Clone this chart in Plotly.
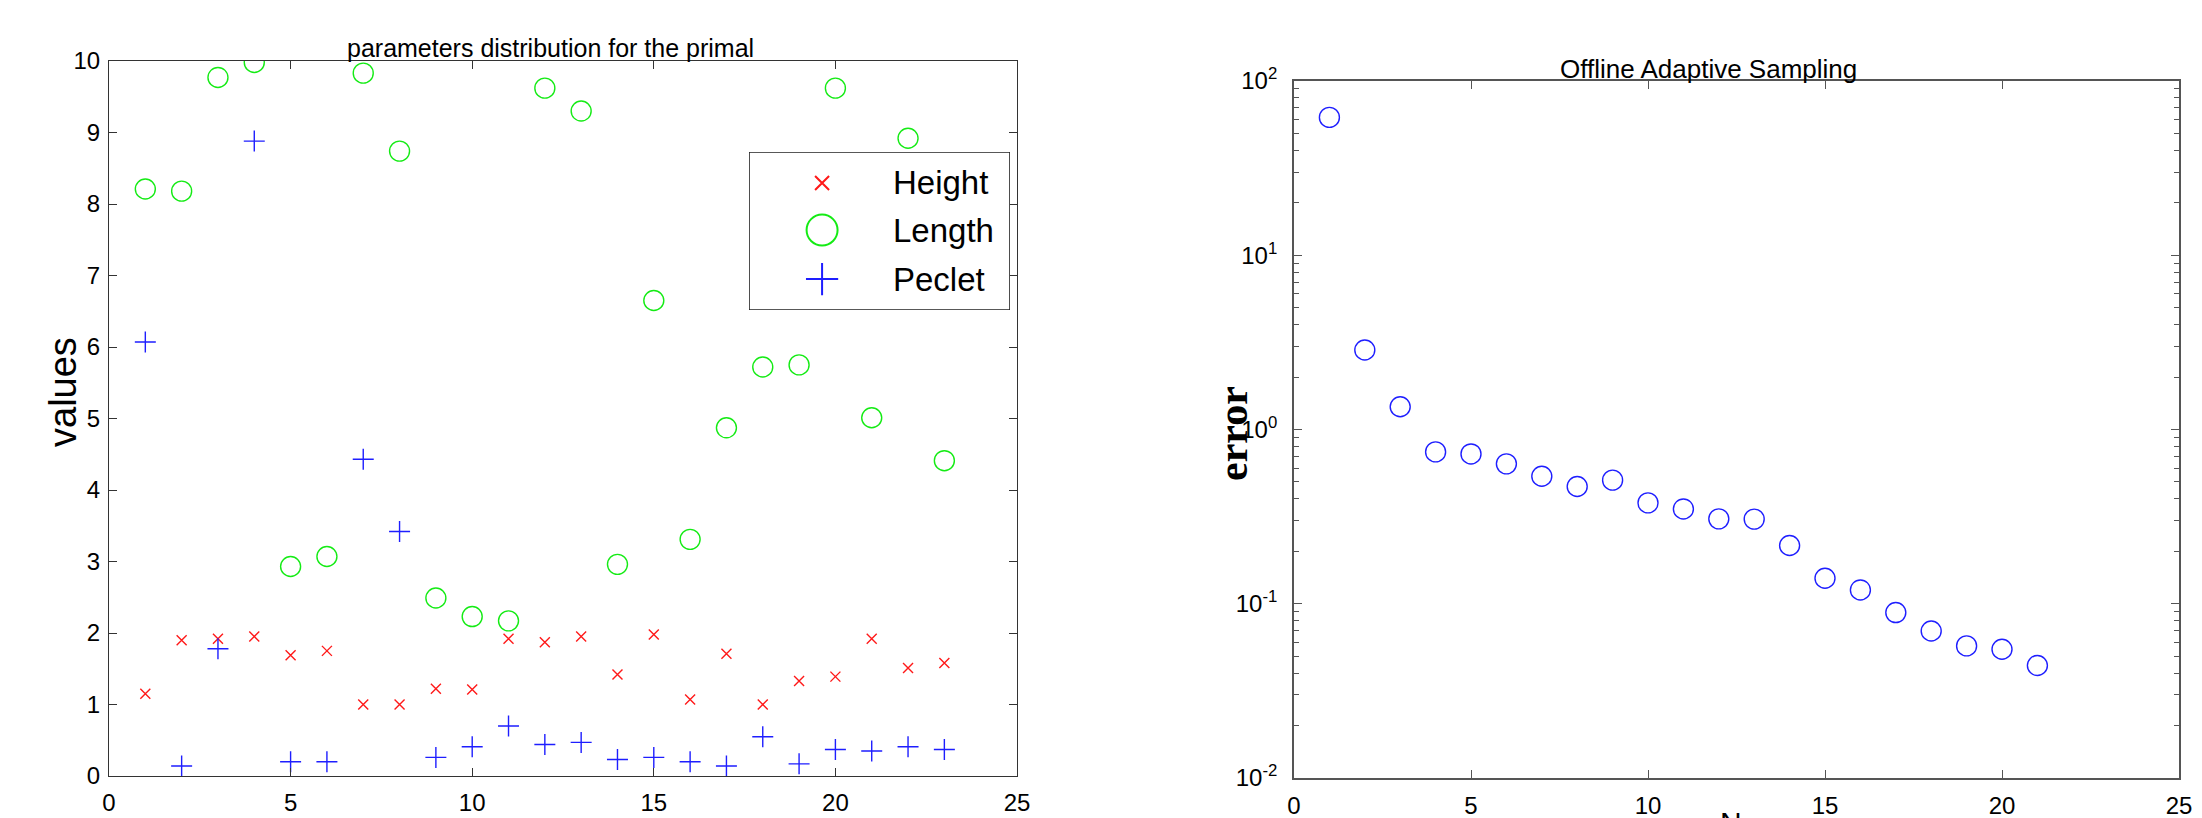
import plotly.graph_objects as go

# ---------------- data ----------------
run_index = list(range(1, 24))
height = [1.15, 1.90, 1.92, 1.95, 1.69, 1.75, 1.00, 1.00, 1.22, 1.21, 1.92, 1.87,
          1.95, 1.42, 1.98, 1.07, 1.71, 1.00, 1.33, 1.39, 1.92, 1.51, 1.58]
length = [8.21, 8.18, 9.77, 9.98, 2.93, 3.07, 9.83, 8.74, 2.49, 2.23, 2.17, 9.62,
          9.30, 2.96, 6.65, 3.31, 4.87, 5.72, 5.75, 9.62, 5.01, 8.92, 4.41]
peclet = [6.07, 0.14, 1.78, 8.88, 0.20, 0.20, 4.43, 3.42, 0.26, 0.41, 0.70, 0.44,
          0.47, 0.23, 0.26, 0.20, 0.14, 0.55, 0.17, 0.37, 0.35, 0.41, 0.37]
series_names = ["Height", "Length", "Peclet"]

n_basis = list(range(1, 22))
error = [61.8, 2.86, 1.35, 0.744, 0.724, 0.635, 0.539, 0.471, 0.512, 0.379, 0.350,
         0.307, 0.306, 0.216, 0.140, 0.120, 0.089, 0.0698, 0.0573, 0.0548, 0.0442]

x_ticks = [0, 5, 10, 15, 20, 25]
log_tick_vals = [0.01, 0.1, 1, 10, 100]
log_tick_text = ["10<sup>-2</sup>", "10<sup>-1</sup>", "10<sup>0</sup>", "10<sup>1</sup>", "10<sup>2</sup>"]

# ---------------- styling ----------------
W, H = 2202, 818
RED = "rgb(255,25,25)"
GREEN = "rgb(20,235,20)"
BLUE = "rgb(30,30,255)"
SANS = "Liberation Sans, Arial, Helvetica, sans-serif"
SERIF = "Liberation Serif, Times New Roman, serif"


def fx(p):
    return p / W


def fy(p):
    return 1 - p / H


fig = go.Figure()

# left panel
fig.add_trace(go.Scatter(x=run_index, y=height, mode="markers", name=series_names[0],
                         marker=dict(symbol="x-thin", size=10, color=RED, line=dict(width=1.4, color=RED)),
                         xaxis="x", yaxis="y", showlegend=False))
fig.add_trace(go.Scatter(x=run_index, y=length, mode="markers", name=series_names[1],
                         marker=dict(symbol="circle-open", size=20, color=GREEN, line=dict(width=1.4, color=GREEN)),
                         xaxis="x", yaxis="y", showlegend=False))
fig.add_trace(go.Scatter(x=run_index, y=peclet, mode="markers", name=series_names[2],
                         marker=dict(symbol="cross-thin", size=15, color=BLUE, line=dict(width=1.4, color=BLUE)),
                         xaxis="x", yaxis="y", showlegend=False))

# right panel
fig.add_trace(go.Scatter(x=n_basis, y=error, mode="markers", name="error",
                         marker=dict(symbol="circle-open", size=20, color=BLUE, line=dict(width=1.4, color=BLUE)),
                         xaxis="x2", yaxis="y2", showlegend=False))

# custom MATLAB-style legend (box + large markers) on a hidden overlay subplot
fig.add_trace(go.Scatter(x=[0, 1, 1, 0, 0], y=[0, 0, 1, 1, 0], mode="lines", fill="toself",
                         fillcolor="white", line=dict(color="#222", width=1.6),
                         xaxis="x3", yaxis="y3", showlegend=False, hoverinfo="skip"))
legend_rows = [0.804, 0.506, 0.196]
legend_symbols = [("x-thin", 14, RED), ("circle-open", 31, GREEN), ("cross-thin", 23, BLUE)]
for (sym, sz, col), ry in zip(legend_symbols, legend_rows):
    fig.add_trace(go.Scatter(x=[0.28], y=[ry], mode="markers",
                             marker=dict(symbol=sym, size=sz, color=col, line=dict(width=2, color=col)),
                             xaxis="x3", yaxis="y3", showlegend=False, hoverinfo="skip"))

axis_common = dict(showgrid=False, zeroline=False, showline=True, ticks="inside",
                   mirror="ticks", ticklen=8, automargin=False)

fig.update_layout(
    width=W, height=H, autosize=False, margin=dict(l=0, r=0, t=0, b=0, pad=0, autoexpand=False),
    paper_bgcolor="white", plot_bgcolor="white",
    xaxis=dict(domain=[fx(109), fx(1017)], range=[0, 25], tickvals=x_ticks,
               linecolor="#333", linewidth=1.2, tickcolor="#333", anchor="y",
               tickfont=dict(family=SANS, size=24, color="black"), ticklabelstandoff=5,
               **axis_common),
    yaxis=dict(domain=[fy(776), fy(61)], range=[0, 10], dtick=1, tick0=0,
               linecolor="#333", linewidth=1.2, tickcolor="#333", anchor="x",
               tickfont=dict(family=SANS, size=24, color="black"), ticklabelstandoff=3,
               **axis_common),
    xaxis2=dict(domain=[fx(1294), fx(2179)], range=[0, 25], tickvals=x_ticks,
                linecolor="#555", linewidth=1.8, tickcolor="#555", anchor="y2",
                tickfont=dict(family=SANS, size=24, color="black"), ticklabelstandoff=5,
                **axis_common),
    yaxis2=dict(domain=[fy(778), fy(81)], type="log", range=[-2, 2],
                tickvals=log_tick_vals, ticktext=log_tick_text,
                linecolor="#555", linewidth=1.8, tickcolor="#555", anchor="x2",
                tickfont=dict(family=SANS, size=24, color="black"), ticklabelstandoff=10,
                minor=dict(ticks="inside", ticklen=5, tickcolor="#555",
                           tickvals=[m * 10 ** k for k in range(-2, 2) for m in range(2, 10)]),
                **axis_common),
    xaxis3=dict(domain=[fx(749), fx(1010)], range=[0, 1], visible=False, anchor="y3",
                fixedrange=True, automargin=False),
    yaxis3=dict(domain=[fy(310), fy(152)], range=[0, 1], visible=False, anchor="x3",
                fixedrange=True, automargin=False),
    showlegend=False,
)

annotations = [
    dict(text="parameters distribution for the primal", x=fx(550), y=fy(64), xref="paper", yref="paper",
         xanchor="center", yanchor="bottom", showarrow=False,
         font=dict(family=SANS, size=25, color="black")),
    dict(text="Offline Adaptive Sampling", x=fx(1708), y=fy(86), xref="paper", yref="paper",
         xanchor="center", yanchor="bottom", showarrow=False,
         font=dict(family=SANS, size=26, color="black")),
    dict(text="values", x=fx(63), y=fy(392), xref="paper", yref="paper", textangle=-90,
         xanchor="center", yanchor="middle", showarrow=False,
         font=dict(family=SANS, size=38, color="black")),
    dict(text="<b>error</b>", x=fx(1233), y=fy(434), xref="paper", yref="paper", textangle=-90,
         xanchor="center", yanchor="middle", showarrow=False,
         font=dict(family=SERIF, size=42, color="black")),
    dict(text="N", x=fx(1731), y=fy(804), xref="paper", yref="paper",
         xanchor="center", yanchor="top", showarrow=False,
         font=dict(family=SANS, size=30, color="black")),
]
for name, ry in zip(series_names, legend_rows):
    annotations.append(dict(text=name, x=0.545, y=ry, xref="x3", yref="y3", xanchor="left",
                            yanchor="middle", showarrow=False,
                            font=dict(family=SANS, size=33, color="black")))
fig.update_layout(annotations=annotations)

fig.write_html("out.html",
               config={"displayModeBar": False, "responsive": False},
               post_script="document.body.style.margin='0';document.body.style.overflow='hidden';")
